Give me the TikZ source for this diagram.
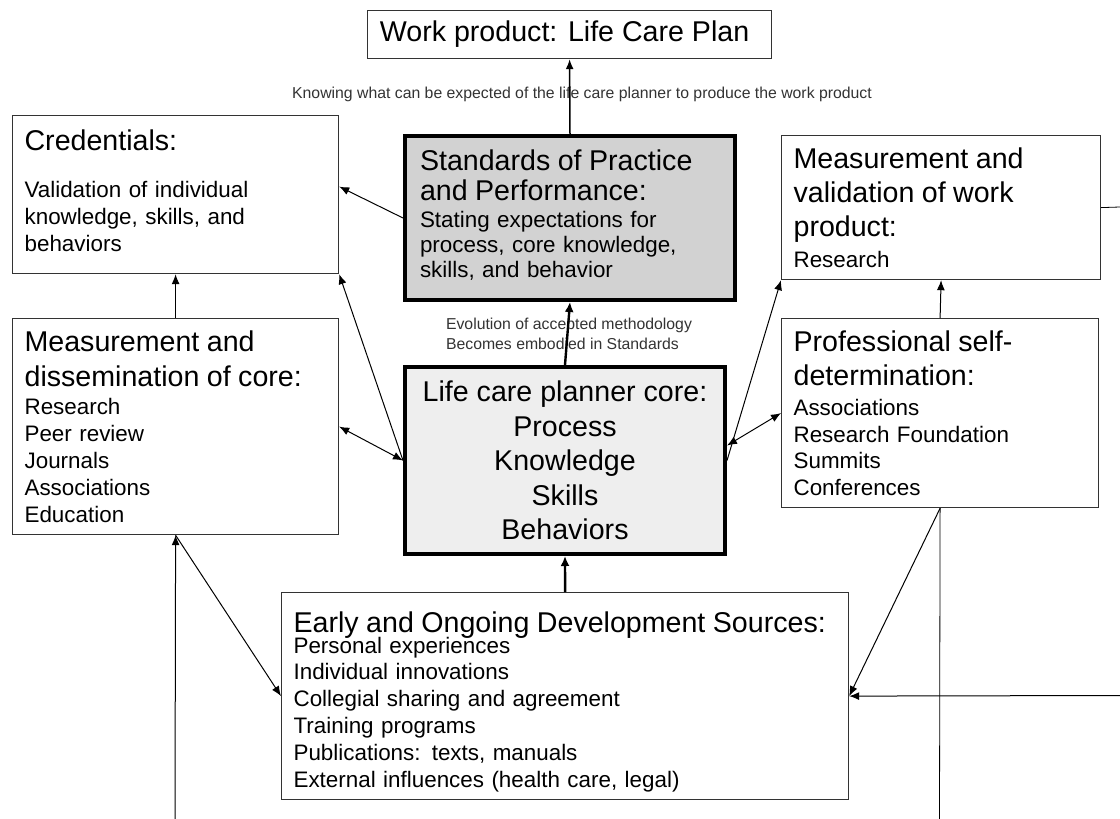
\documentclass[tikz,border=0pt]{standalone}
\usepackage{fontspec}
\setmainfont{Liberation Sans}
\usetikzlibrary{arrows.meta,positioning,calc}
\definecolor{stdgray}{HTML}{D2D2D2}
\definecolor{coregray}{HTML}{EEEEEE}
\newcommand{\boxhead}{\fontsize{14.3}{17.2}\selectfont}
\newcommand{\boxitem}{\fontsize{11.2}{13.4}\selectfont}
\newcommand{\notefont}{\fontsize{7.9}{10}\selectfont}
\tikzset{
  plainbox/.style={draw=black!80, line width=0.6pt, anchor=north west, align=left, inner xsep=6pt, inner ysep=0pt, font=\boxitem},
  heavybox/.style={draw=black, line width=2pt, anchor=north west, inner ysep=0pt},
  arr/.style={-{Latex[length=5pt,width=4pt]}, line width=0.5pt},
  dblarr/.style={{Latex[length=5pt,width=4pt]}-{Latex[length=5pt,width=4pt]}, line width=0.5pt},
  boldarr/.style={-{Latex[length=5pt,width=4.5pt]}, line width=1.2pt},
  note/.style={font=\notefont, text=black!80, align=left, inner sep=0pt}
}

\begin{document}
\begin{tikzpicture}[x=0.5pt,y=-0.5pt]
\useasboundingbox (0,0) rectangle (1120,819);

% top: the work product
\node[plainbox, align=center, font=\boxhead, minimum width=202pt, minimum height=24pt] (work) at (367,10) {Work product: Life Care Plan\hspace*{5pt}};

% second row
\node[plainbox, minimum width=163pt, minimum height=79pt, text width=151pt] (cred) at (12,115)
  {\boxhead Credentials:\\[10pt] \boxitem Validation of individual\\ knowledge,  skills,  and\\ behaviors\strut};
\node[heavybox, fill=stdgray, minimum width=165pt, minimum height=82pt, text width=150pt, inner xsep=7.5pt, align=left, font=\boxitem] (std) at (403,134)
  {\boxhead Standards of Practice\\[-2.2pt] and Performance:\\ \boxitem Stating expectations for\\[-0.9pt] process, core knowledge,\\[-0.9pt] skills,  and behavior\rule[-4.7pt]{0pt}{1pt}};
\node[plainbox, minimum width=159.5pt, minimum height=72pt, text width=147.5pt] (mval) at (781,135)
  {\boxhead Measurement and\\ validation of work\\ product:\\[2pt] \boxitem Research};

% third row
\node[plainbox, minimum width=163pt, minimum height=108pt, text width=151pt] (diss) at (12,318)
  {\boxhead Measurement and\\ dissemination of core:\\[1pt] \boxitem Research\\ Peer review\\ Journals\\ Associations\\ Education};
\node[heavybox, fill=coregray, minimum width=160pt, minimum height=93.5pt, align=center, font=\boxhead] (core) at (403,365)
  {Life care planner core:\\ Process\\ Knowledge\\ Skills\\ Behaviors};
\node[plainbox, minimum width=158.5pt, minimum height=94.5pt, text width=146.5pt] (prof) at (781,318)
  {\boxhead Professional self-\\ determination:\\[1.5pt] \boxitem Associations\\ Research Foundation\\ Summits\\ Conferences};

% bottom: sources
\node[plainbox, minimum width=283.5pt, minimum height=103.5pt, text width=271.5pt] (early) at (281,592)
  {\boxhead\rule{0pt}{16pt}Early and Ongoing Development Sources:\\[-3pt] \boxitem Personal experiences\\ Individual innovations\\ Collegial sharing and agreement\\ Training programs\\ Publications: texts, manuals\\ External influences (health care, legal)};

% labels on the vertical arrows
\node[note] (knowlbl) at (582,94) {Knowing what can be expected of the life care planner to produce the work product};
\node[note] (evolbl) at (569,334) {Evolution of accepted methodology\\ Becomes embodied in Standards};

% loose ends leaving the picture
\coordinate (leftbot) at (175,819);
\coordinate (rightbot) at (939.5,819);
\coordinate (rightin) at (1120,695.5);
\coordinate (rightout) at (1120,207);

% connectors
\draw[arr, line width=0.75pt] (std.north) -- (work.south);
\draw[boldarr] (core.north) -- (std.south);
\draw[boldarr] (early.north) -- (core.south);
\draw[arr] (std.west) -- ([yshift=4pt]cred.east);
\draw[arr] (core.west) -- (cred.south east);
\draw[dblarr] (diss.east) -- (core.west);
\draw[arr] (diss.north) -- (cred.south);
\draw[arr] (core.east) -- (mval.south west);
\draw[dblarr] ([yshift=7.5pt]core.east) -- (prof.west);
\draw[arr] (prof.north) -- (mval.south);
\draw[arr] (leftbot) -- (diss.south);
\draw[arr] (diss.south) -- (early.west);
\draw (prof.south) -- (rightbot);
\draw[arr] (prof.south) -- (early.east);
\draw[arr] (rightin) -- (early.east);
\draw (mval.east) -- (rightout);
\end{tikzpicture}
\end{document}
